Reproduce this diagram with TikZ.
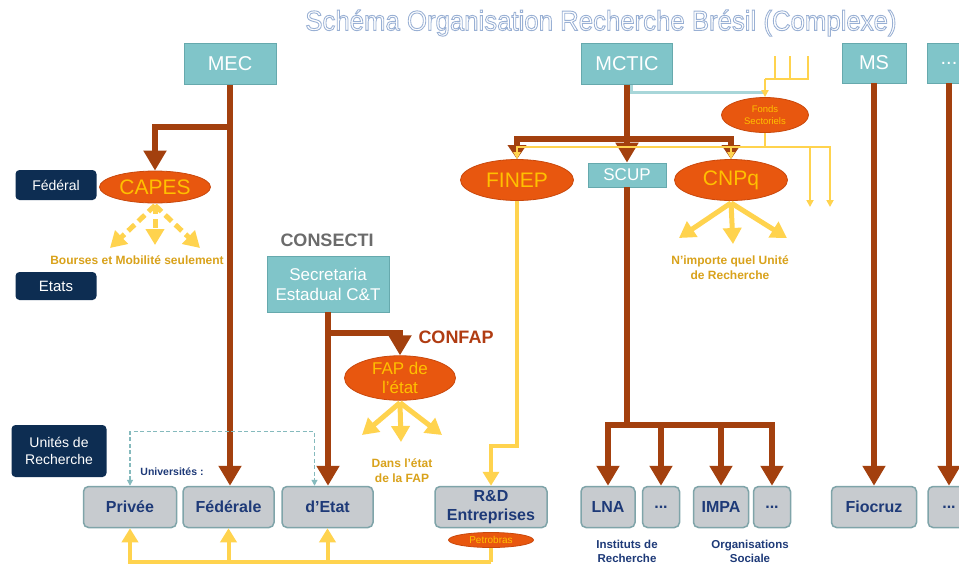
\documentclass[tikz,border=0pt]{standalone}
\usepackage{fontspec}
\setmainfont{Liberation Sans}
\usetikzlibrary{arrows.meta,shapes.geometric}
\definecolor{teal1}{HTML}{80C5C9}
\definecolor{tealb}{HTML}{66A9AD}
\definecolor{tealln}{HTML}{A8D6D9}
\definecolor{navy}{HTML}{0D2D52}
\definecolor{orng}{HTML}{E8570F}
\definecolor{orngb}{HTML}{C9480C}
\definecolor{ylw}{HTML}{FFC000}
\definecolor{ylwl}{HTML}{FFD34E}
\definecolor{brn}{HTML}{A3400E}
\definecolor{gold}{HTML}{D9A21B}
\definecolor{grayb}{HTML}{C7CBCF}
\definecolor{grayd}{HTML}{7FA4A9}
\definecolor{txtnavy}{HTML}{1E3A78}
\definecolor{consecti}{HTML}{6B6B6B}
\definecolor{confap}{HTML}{B03C12}
\tikzset{
  ministry/.style={draw=tealb, line width=0.8pt, fill=teal1, text=white, minimum height=41pt, inner sep=0pt, align=center, font=\fontsize{20}{22}\selectfont},
  level/.style={fill=navy, rounded corners=4pt, text=white, align=center, inner sep=0pt, font=\fontsize{14}{17}\selectfont},
  agency/.style={ellipse, fill=orng, draw=orngb, line width=0.8pt, text=ylw, inner sep=0pt, align=center, font=\fontsize{21}{23}\selectfont},
  unit/.style={fill=grayb, draw=grayd, line width=1.5pt, rounded corners=5pt, text=txtnavy, font=\bfseries\fontsize{16}{18}\selectfont, minimum height=41pt, inner sep=0pt, align=center},
  bigline/.style={draw=brn, line width=6pt},
  bigflow/.style={draw=brn, line width=6pt, -{Triangle[width=22pt,length=20pt]}},
  midflow/.style={draw=brn, line width=6pt, -{Triangle[width=18pt,length=14pt]}},
  yflow/.style={draw=ylwl, line width=5pt, -{Triangle[width=18pt,length=16pt]}},
  ydash/.style={draw=ylwl, line width=5pt, dash pattern=on 9pt off 5pt, -{Triangle[width=18pt,length=16pt]}},
  ypath/.style={draw=ylwl, line width=4pt, -{Triangle[width=16pt,length=14pt]}},
  ythin/.style={draw=ylwl, line width=2pt},
  ythinarr/.style={draw=ylwl, line width=2pt, -{Triangle[width=7pt,length=7pt]}},
  tdash/.style={draw=tealb!80, line width=1.2pt, dash pattern=on 4pt off 2.5pt, {Triangle[width=6pt,length=6pt]}-{Triangle[width=6pt,length=6pt]}},
  note/.style={text=gold, font=\bfseries\fontsize{12}{15}\selectfont, align=center, inner sep=0pt},
  caption/.style={text=txtnavy, font=\bfseries\fontsize{11.5}{14}\selectfont, align=center, inner sep=0pt}
}
\begin{document}
\begin{tikzpicture}[x=1pt,y=-1pt]
\useasboundingbox (0,0) rectangle (959,566);
\fill[white] (0,0) rectangle (959,566);

% title
\node[inner sep=0pt, xscale=0.92, font=\fontsize{28}{30}\selectfont] (title) at (601,23) {\color{white}\special{pdf:literal direct 2 Tr 0.9 w 0.60 0.69 0.83 RG}Schéma Organisation Recherche Brésil (Complexe)\special{pdf:literal direct 0 Tr}};

% ministries
\node[ministry, minimum width=92pt] (mec) at (230,64) {MEC};
\node[ministry, minimum width=91pt] (mctic) at (627,64) {MCTIC};
\node[ministry, minimum width=64pt, minimum height=40pt] (ms) at (874,63) {MS};
\node[ministry, minimum width=44pt, minimum height=40pt] (mdots) at (949,63) {...};

% levels
\node[level, minimum width=81pt, minimum height=30pt] (fed) at (56,185) {Fédéral};
\node[level, minimum width=81pt, minimum height=28pt, font=\fontsize{15}{17}\selectfont] (etats) at (56,286) {Etats};
\node[level, minimum width=95pt, minimum height=52pt] (unites) at (59,451) {Unités de\\Recherche};

% agencies
\node[agency, minimum width=111pt, minimum height=32pt] (capes) at (155,187) {CAPES};
\node[agency, minimum width=113pt, minimum height=41pt] (finep) at (517,180) {FINEP};
\node[agency, minimum width=113pt, minimum height=41pt] (cnpq) at (731,180) {CNPq};
\node[ministry, minimum width=78pt, minimum height=24pt, font=\fontsize{17}{19}\selectfont] (scup) at (627,175) {SCUP};
\node[agency, minimum width=87pt, minimum height=35pt, font=\fontsize{9.5}{12}\selectfont] (fonds) at (765,115) {Fonds\\Sectoriels};

\node[text=consecti, font=\bfseries\fontsize{18}{20}\selectfont, inner sep=0pt] (consecti) at (327,240) {CONSECTI};
\node[ministry, minimum width=122pt, minimum height=56pt, font=\fontsize{17}{20}\selectfont] (secr) at (328,284) {Secretaria\\Estadual C\&T};
\node[text=confap, font=\bfseries\fontsize{18}{20}\selectfont, inner sep=0pt] (confap) at (456,337) {CONFAP};
\node[agency, minimum width=111pt, minimum height=44pt, font=\fontsize{17}{19}\selectfont] (fap) at (400,378) {FAP de\\l'état};

% units
\node[unit, minimum width=93pt] (prive) at (130,507) {Privée};
\node[unit, minimum width=91pt] (federale) at (228.5,507) {Fédérale};
\node[unit, minimum width=91pt] (detat) at (327.5,507) {d'Etat};
\node[unit, minimum width=112pt, font=\bfseries\fontsize{16}{19}\selectfont] (rd) at (491,507) {R\&D\\Entreprises};
\node[agency, minimum width=85pt, minimum height=15pt, font=\fontsize{10}{11}\selectfont] (petro) at (491,540) {Petrobras};
\node[unit, minimum width=54pt] (lna) at (608,507) {LNA};
\node[unit, minimum width=37pt] (dots1) at (661,507) {...};
\node[unit, minimum width=55pt] (impa) at (721,507) {IMPA};
\node[unit, minimum width=37pt] (dots2) at (772,507) {...};
\node[unit, minimum width=85pt] (fiocruz) at (874,507) {Fiocruz};
\node[unit, minimum width=42pt] (dots3) at (949,507) {...};

% labels
\node[note] (bourses) at (137,260) {Bourses et Mobilité seulement};
\node[note] (nimporte) at (730,268) {N'importe quel Unité\\de Recherche};
\node[note] (dans) at (402,471) {Dans l'état\\de la FAP};
\node[caption, font=\bfseries\fontsize{10.5}{12}\selectfont] (univ) at (172,472) {Universités :};
\node[caption] (instituts) at (627,551) {Instituts de\\Recherche};
\node[caption] (orgs) at (750,551) {Organisations\\Sociale};

% teal link MCTIC -> Fonds
\coordinate (tl) at (631,92);
\draw[tealln, line width=3pt] ([xshift=4pt]mctic.south) |- (fonds.north |- tl);

% MEC
\draw[bigflow] (mec.south) -- (mec.south |- federale.north);
\draw[bigflow] (mec.south |- 0,127) -| (capes.north);

% MCTIC
\coordinate (mbar) at (627,139);
\draw[bigline] (mctic.south) -- (mbar);
\draw[midflow] (mbar) -| (finep.north);
\draw[midflow] (mbar) -| (cnpq.north);
\draw[bigflow] (mctic.south) -- (scup.north);
\coordinate (sbar) at (627,425);
\draw[bigline] (scup.south) -- (sbar);
\draw[bigflow] (sbar) -| (lna.north);
\draw[bigflow] (sbar) -| (dots1.north);
\draw[bigflow] (sbar) -| (impa.north);
\draw[bigflow] (sbar) -| (dots2.north);

% MS and others
\draw[bigflow] (ms.south) -- (fiocruz.north);
\draw[bigflow] (mdots.south) -- (dots3.north);

% Secretaria
\draw[bigflow] (secr.south) -- (secr.south |- detat.north);
\draw[bigflow] (secr.south |- 0,333) -| (fap.north);

% Fonds sectoriels inputs
\coordinate (in1) at (775,56);
\coordinate (in2) at (790,56);
\coordinate (in3) at (808,56);
\coordinate (fbar) at (765,79);
\draw[ythin] (in1) -- (in1 |- fbar);
\draw[ythin] (in2) -- (in2 |- fbar);
\draw[ythin] (in3) |- (fbar);
\draw[ythinarr] (fbar) -- (fonds.north);

% Fonds sectoriels distribution
\coordinate (ybar) at (765,147);
\coordinate (out1) at (810,207);
\coordinate (out2) at (830,207);
\draw[ythin] (fonds.south) -- (ybar);
\draw[ythinarr] (ybar) -| (finep.north);
\draw[ythinarr] (ybar) -| (cnpq.north);
\draw[ythinarr] (ybar) -| (out1);
\draw[ythinarr] (ybar) -| (out2);

% FINEP -> R&D
\draw[ypath] (finep.south) -- ++(0,245) -| (rd.north);

% Petrobras -> universities
\coordinate (pbar) at (491,562);
\draw[ythin, draw=ylwl, line width=4pt] (petro.south) -- (pbar);
\draw[ypath] (pbar) -| (prive.south);
\draw[ypath] (pbar) -| (federale.south);
\draw[ypath] (pbar) -| (detat.south);

% universities dashed link
\draw[tdash] (prive.north) -- ++(0,-54) -| ([xshift=-13pt]detat.north);

% CAPES dashed outputs
\coordinate (c1) at (110,248);
\coordinate (c2) at (155,245);
\coordinate (c3) at (200,248);
\draw[ydash] ([yshift=-2pt]capes.south) -- (c1);
\draw[ydash] ([yshift=-2pt]capes.south) -- (c2);
\draw[ydash] ([yshift=-2pt]capes.south) -- (c3);

% CNPq outputs
\coordinate (n1) at (679,238);
\coordinate (n2) at (733,244);
\coordinate (n3) at (787,238);
\draw[yflow] ([yshift=-2pt]cnpq.south) -- (n1);
\draw[yflow] ([yshift=-2pt]cnpq.south) -- (n2);
\draw[yflow] ([yshift=-2pt]cnpq.south) -- (n3);

% FAP outputs
\coordinate (f1) at (362,435);
\coordinate (f2) at (401,442);
\coordinate (f3) at (442,435);
\draw[yflow] ([yshift=-2pt]fap.south) -- (f1);
\draw[yflow] ([yshift=-2pt]fap.south) -- (f2);
\draw[yflow] ([yshift=-2pt]fap.south) -- (f3);
\end{tikzpicture}
\end{document}
